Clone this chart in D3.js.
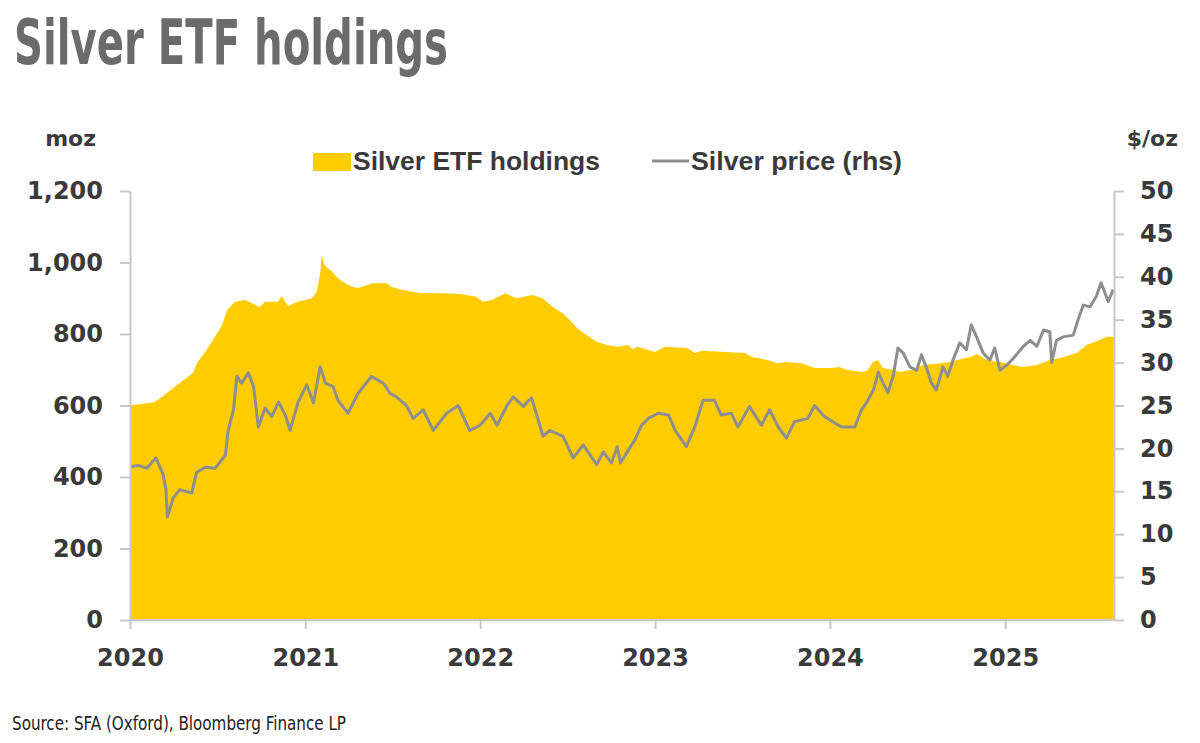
<!DOCTYPE html>
<html>
<head>
<meta charset="utf-8">
<script src="https://cdn.jsdelivr.net/npm/d3@7/dist/d3.min.js"></script>
<style>
  html, body { margin: 0; padding: 0; background: #ffffff; }
  svg { display: block; }
</style>
</head>
<body>
<svg id="chart" width="1200" height="743"></svg>
<script>
// ---------------- DATA ----------------
const etfDates = ["2020-01-01","2020-01-25","2020-02-20","2020-03-05","2020-03-25","2020-04-18","2020-05-11","2020-05-20","2020-06-06","2020-07-01","2020-07-11","2020-07-22","2020-08-07","2020-08-29","2020-09-12","2020-09-28","2020-10-09","2020-11-05","2020-11-13","2020-11-26","2020-12-16","2021-01-15","2021-01-25","2021-02-01","2021-02-04","2021-02-10","2021-02-26","2021-03-10","2021-03-31","2021-04-20","2021-05-22","2021-06-20","2021-07-01","2021-07-24","2021-08-29","2021-10-16","2021-11-20","2021-12-24","2022-01-06","2022-01-25","2022-02-22","2022-03-18","2022-04-20","2022-05-11","2022-06-01","2022-06-22","2022-07-07","2022-07-22","2022-08-11","2022-09-01","2022-09-22","2022-10-15","2022-11-05","2022-11-15","2022-11-26","2023-01-01","2023-01-21","2023-03-10","2023-03-25","2023-04-08","2023-05-27","2023-07-07","2023-07-22","2023-08-24","2023-09-14","2023-10-01","2023-11-03","2023-11-30","2024-01-05","2024-01-20","2024-02-07","2024-03-10","2024-03-20","2024-03-31","2024-04-10","2024-04-21","2024-05-12","2024-05-27","2024-06-17","2024-07-14","2024-08-18","2024-09-08","2024-09-23","2024-10-20","2024-11-03","2024-11-24","2024-12-21","2025-01-17","2025-02-07","2025-03-08","2025-04-04","2025-05-01","2025-05-30","2025-06-20","2025-07-17","2025-08-01","2025-08-16"];
const etfMoz = [601,604,609,621,643,667,690,719,750,802,825,867,890,895,886,875,890,890,906,878,890,900,918,970,1020,992,974,956,937,928,942,942,931,923,915,914,912,904,890,895,914,900,909,900,876,858,839,817,797,778,769,764,769,758,764,750,764,761,747,753,750,747,736,727,718,722,718,705,705,708,699,694,699,722,727,705,699,694,699,713,718,722,727,736,744,727,722,713,708,713,727,735,747,769,783,792,792];

const priceDates = ["2020-01-02","2020-01-20","2020-02-05","2020-02-24","2020-03-10","2020-03-16","2020-03-19","2020-03-31","2020-04-14","2020-05-09","2020-05-19","2020-06-06","2020-06-27","2020-07-18","2020-07-24","2020-08-04","2020-08-11","2020-08-21","2020-09-04","2020-09-15","2020-09-25","2020-10-09","2020-10-23","2020-11-06","2020-11-20","2020-11-30","2020-12-17","2021-01-04","2021-01-18","2021-02-01","2021-02-12","2021-02-28","2021-03-10","2021-03-31","2021-04-21","2021-05-19","2021-06-13","2021-06-27","2021-07-10","2021-07-31","2021-08-14","2021-09-04","2021-09-25","2021-10-23","2021-11-16","2021-12-10","2022-01-01","2022-01-22","2022-02-05","2022-02-26","2022-03-11","2022-04-01","2022-04-18","2022-04-28","2022-05-12","2022-05-26","2022-06-23","2022-07-14","2022-08-04","2022-09-01","2022-09-15","2022-10-02","2022-10-14","2022-10-21","2022-11-06","2022-11-20","2022-12-04","2022-12-18","2023-01-08","2023-01-29","2023-02-12","2023-03-07","2023-03-25","2023-04-11","2023-05-05","2023-05-19","2023-06-09","2023-06-23","2023-07-17","2023-08-11","2023-08-28","2023-09-15","2023-10-02","2023-10-19","2023-11-16","2023-11-30","2023-12-21","2024-01-25","2024-02-22","2024-03-07","2024-03-17","2024-04-01","2024-04-11","2024-04-21","2024-05-01","2024-05-12","2024-05-22","2024-06-02","2024-06-16","2024-06-30","2024-07-10","2024-07-20","2024-07-31","2024-08-10","2024-08-24","2024-09-03","2024-09-14","2024-09-28","2024-10-12","2024-10-22","2024-11-02","2024-11-16","2024-11-30","2024-12-10","2024-12-21","2025-01-04","2025-01-18","2025-02-08","2025-02-22","2025-03-08","2025-03-22","2025-04-04","2025-04-08","2025-04-18","2025-05-02","2025-05-23","2025-06-02","2025-06-13","2025-06-27","2025-07-10","2025-07-20","2025-08-04","2025-08-14"];
const priceUsd = [17.9,18.0,17.7,18.9,17.0,15.2,12.0,14.2,15.2,14.8,17.2,17.8,17.7,19.2,22.1,24.5,28.4,27.6,28.8,27.2,22.5,24.7,23.7,25.4,23.9,22.1,25.4,27.4,25.3,29.5,27.6,27.2,25.6,24.1,26.4,28.4,27.6,26.4,26.0,25.0,23.5,24.5,22.1,24.1,25.0,22.1,22.7,24.1,22.7,25.0,26.0,24.9,25.9,24.1,21.4,22.1,21.4,18.9,20.4,18.1,19.6,18.3,20.2,18.3,19.8,21.0,22.7,23.5,24.1,23.9,22.1,20.2,22.5,25.6,25.6,23.9,24.1,22.5,24.9,22.7,24.5,22.5,21.2,23.1,23.5,25.0,23.7,22.5,22.5,24.5,25.3,26.8,28.9,27.6,26.5,28.4,31.7,31.1,29.5,29.1,30.9,29.5,27.6,26.8,29.5,28.4,30.3,32.3,31.5,34.4,33.0,31.1,30.3,31.7,29.1,29.7,30.5,31.9,32.6,31.9,33.8,33.6,30.0,32.6,33.0,33.2,35.0,36.7,36.5,37.7,39.3,37.1,38.5];

const leftTicks = [0, 200, 400, 600, 800, 1000, 1200];
const rightTicks = [0, 5, 10, 15, 20, 25, 30, 35, 40, 45, 50];
const yearTicks = ["2020-01-01","2021-01-01","2022-01-01","2023-01-01","2024-01-01","2025-01-01"];
const xDomain = ["2020-01-01", "2025-08-16"];

const titleText = "Silver ETF holdings";
const sourceText = "Source: SFA (Oxford), Bloomberg Finance LP";
const legendLabels = ["Silver ETF holdings", "Silver price (rhs)"];

// ---------------- LAYOUT ----------------
const parse = d3.timeParse("%Y-%m-%d");
const svg = d3.select("#chart");
const X0 = 130, X1 = 1114, Y0 = 620, Y1 = 191;
const YELLOW = "#FFCC00", GREY = "#8e8e8e", AXIS = "#c8c8c8", TXT = "#3a3a3a";
const tickFont = "'DejaVu Sans', sans-serif";

const x = d3.scaleTime().domain(xDomain.map(parse)).range([X0, X1]);
const yL = d3.scaleLinear().domain([0, 1200]).range([Y0, Y1]);
const yR = d3.scaleLinear().domain([0, 50]).range([Y0, Y1]);

const etf = etfDates.map((d, i) => ({ date: parse(d), v: etfMoz[i] }));
const price = priceDates.map((d, i) => ({ date: parse(d), v: priceUsd[i] }));

// area
svg.append("path")
  .datum(etf)
  .attr("fill", YELLOW)
  .attr("d", d3.area().x(d => x(d.date)).y0(yL(0)).y1(d => yL(d.v)));

// price line
svg.append("path")
  .datum(price)
  .attr("fill", "none")
  .attr("stroke", GREY)
  .attr("stroke-width", 3)
  .attr("stroke-linejoin", "round")
  .attr("d", d3.line().x(d => x(d.date)).y(d => yR(d.v)));

// axes
function styleAxis(g) {
  g.select(".domain").attr("stroke", AXIS).attr("stroke-width", 2);
  g.selectAll(".tick line").attr("stroke", AXIS).attr("stroke-width", 2);
  g.selectAll(".tick text")
    .attr("fill", TXT)
    .style("font-family", tickFont)
    .style("font-weight", "bold")
    .style("font-size", "24px");
}

const axL = svg.append("g").attr("transform", `translate(${X0},0)`)
  .call(d3.axisLeft(yL).tickValues(leftTicks).tickSize(10).tickSizeOuter(0)
    .tickPadding(17).tickFormat(d3.format(",")));
styleAxis(axL);

const axR = svg.append("g").attr("transform", `translate(${X1},0)`)
  .call(d3.axisRight(yR).tickValues(rightTicks).tickSize(10).tickSizeOuter(0)
    .tickPadding(16).tickFormat(d3.format("d")));
styleAxis(axR);

const axB = svg.append("g").attr("transform", `translate(0,${Y0})`)
  .call(d3.axisBottom(x).tickValues(yearTicks.map(parse)).tickSize(9).tickSizeOuter(0)
    .tickPadding(20).tickFormat(d3.timeFormat("%Y")));
styleAxis(axB);
axB.select(".domain").attr("d", `M${X0},0H${X1}`);

// axis unit labels
svg.append("text").attr("x", 96).attr("y", 146).attr("text-anchor", "end")
  .attr("fill", TXT).style("font-family", tickFont).style("font-weight", "bold")
  .style("font-size", "22px").text("moz");
svg.append("text").attr("x", 1178).attr("y", 146).attr("text-anchor", "end")
  .attr("fill", TXT).style("font-family", tickFont).style("font-weight", "bold")
  .style("font-size", "22px").text("$/oz");

// legend
const lg = svg.append("g");
lg.append("rect").attr("x", 313).attr("y", 153).attr("width", 38).attr("height", 18).attr("fill", YELLOW);
lg.append("text").attr("x", 353).attr("y", 170).attr("fill", TXT)
  .style("font-family", "'Liberation Sans', Arial, sans-serif").style("font-weight", "bold")
  .style("font-size", "25px").attr("textLength", 247).attr("lengthAdjust", "spacingAndGlyphs")
  .text(legendLabels[0]);
lg.append("line").attr("x1", 652).attr("x2", 689).attr("y1", 161).attr("y2", 161)
  .attr("stroke", GREY).attr("stroke-width", 3);
lg.append("text").attr("x", 691).attr("y", 170).attr("fill", TXT)
  .style("font-family", "'Liberation Sans', Arial, sans-serif").style("font-weight", "bold")
  .style("font-size", "25px").attr("textLength", 211).attr("lengthAdjust", "spacingAndGlyphs")
  .text(legendLabels[1]);

// title
svg.append("text").attr("x", 14).attr("y", 64).attr("fill", "#6b6b6b")
  .style("font-family", "'Liberation Sans Narrow', 'DejaVu Sans Condensed', sans-serif")
  .style("font-weight", "bold").style("font-size", "63px")
  .attr("textLength", 434).attr("lengthAdjust", "spacingAndGlyphs")
  .text(titleText);

// source
svg.append("text").attr("x", 12).attr("y", 730).attr("fill", "#222")
  .style("font-family", "'Liberation Sans Narrow', 'DejaVu Sans Condensed', sans-serif")
  .style("font-size", "20px")
  .attr("textLength", 334).attr("lengthAdjust", "spacingAndGlyphs")
  .text(sourceText);
</script>
</body>
</html>
